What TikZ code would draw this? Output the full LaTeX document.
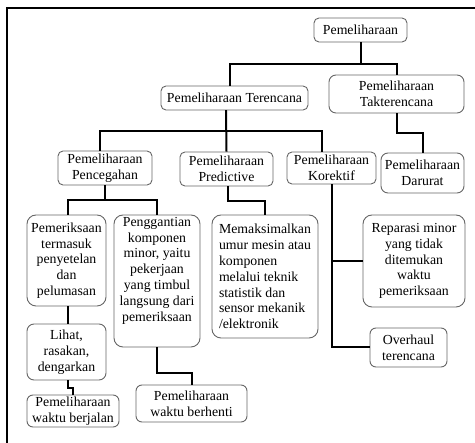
\documentclass[tikz,border=0pt]{standalone}
\usepackage{fontspec}
\setmainfont{Liberation Serif}
\begin{document}
\begin{tikzpicture}[x=1pt,y=-1pt,
  box/.style={draw=black!60, line width=0.9pt, rounded corners=5pt, inner sep=0pt,
    align=center, font=\fontsize{13.8}{15.8}\selectfont, text=black},
  bigbox/.style={box, rounded corners=9pt},
  conn/.style={draw=black, line width=2pt},
  frame/.style={draw=black, line width=1.5pt}]
\useasboundingbox (0,0) rectangle (475,443);
\coordinate (fa) at (7,443);
\coordinate (fb) at (7,8);
\coordinate (fc) at (476,8);
\draw[frame] (fa) -- (fb) -- (fc);

\node[box, minimum width=93pt, minimum height=24pt] (root) at (360.5,30) {Pemeliharaan};
\node[box, minimum width=147pt, minimum height=24pt] (ter) at (234.5,98) {Pemeliharaan Terencana};
\node[box, rounded corners=7pt, minimum width=135pt, minimum height=38pt] (tak) at (396.5,94) {Pemeliharaan\\Takterencana};
\node[box, minimum width=94pt, minimum height=34pt] (pen) at (105,168) {Pemeliharaan\\Pencegahan};
\node[box, minimum width=93pt, minimum height=34pt] (pre) at (226.5,169) {Pemeliharaan\\Predictive};
\node[box, minimum width=89pt, minimum height=32pt] (kor) at (331.5,168) {Pemeliharaan\\Korektif};
\node[box, rounded corners=7pt, minimum width=83pt, minimum height=40pt] (dar) at (422.5,173) {Pemeliharaan\\Darurat};
\node[bigbox, minimum width=79pt, minimum height=91pt] (pmr) at (66.5,260.5) {Pemeriksaan\\termasuk\\penyetelan\\dan\\pelumasan};
\node[bigbox, minimum width=86pt, minimum height=132pt] (pgg) at (157,281) {Penggantian\\komponen\\minor, yaitu\\pekerjaan\\yang timbul\\langsung dari\\pemeriksaan\\[8pt]};
\node[bigbox, align=left, minimum width=106pt, minimum height=123pt] (mak) at (265,276.5) {Memaksimalkan\\umur mesin atau\\komponen\\melalui teknik\\statistik dan\\sensor mekanik\\/elektronik};
\node[bigbox, minimum width=102pt, minimum height=92pt] (rep) at (414,261) {Reparasi minor\\yang tidak\\ditemukan\\waktu\\pemeriksaan};
\node[box, rounded corners=6pt, minimum width=77pt, minimum height=39pt] (ovh) at (408.5,347.5) {Overhaul\\terencana};
\node[box, rounded corners=7pt, minimum width=79pt, minimum height=56pt] (lih) at (66.5,352) {Lihat,\\rasakan,\\dengarkan};
\node[box, rounded corners=6pt, minimum width=92pt, minimum height=32pt] (wbj) at (73,411) {Pemeliharaan\\waktu berjalan};
\node[box, rounded corners=6pt, minimum width=111pt, minimum height=37pt] (wbh) at (191.5,403.5) {Pemeliharaan\\waktu berhenti};

% connectors
\draw[conn] (root.south) -- ++(0,22) -| ([xshift=-4.5pt]ter.north);
\draw[conn] (root.south) -- ++(0,22) -| (tak.north);
\draw[conn] ([xshift=-8.5pt]ter.south) -- ++(0,21) -| ([xshift=-5pt]pen.north);
\draw[conn] ([xshift=-8.5pt]ter.south) -- (pre.north);
\draw[conn] ([xshift=-8.5pt]ter.south) -- ++(0,21) -| ([xshift=-9.5pt]kor.north);
\draw[conn] (tak.south) -- ++(0,20) -| (dar.north);
\draw[conn] (pen.south) -- ++(0,15) -| ([xshift=1.5pt]pmr.north);
\draw[conn] (pen.south) -- ++(0,15) -| (pgg.north);
\draw[conn] ([xshift=1.5pt]pre.south) -- ++(0,15) -| (mak.north);
\draw[conn] (kor.south) |- (rep.west);
\draw[conn] (kor.south) |- (ovh.west);
\draw[conn] ([xshift=1.5pt]pmr.south) -- ([xshift=1.5pt]lih.north);
\draw[conn] ([xshift=1.5pt]lih.south) -- ++(0,8) -| (wbj.north);
\draw[conn] (pgg.south) -- ++(0,26) -| (wbh.north);
\end{tikzpicture}
\end{document}
